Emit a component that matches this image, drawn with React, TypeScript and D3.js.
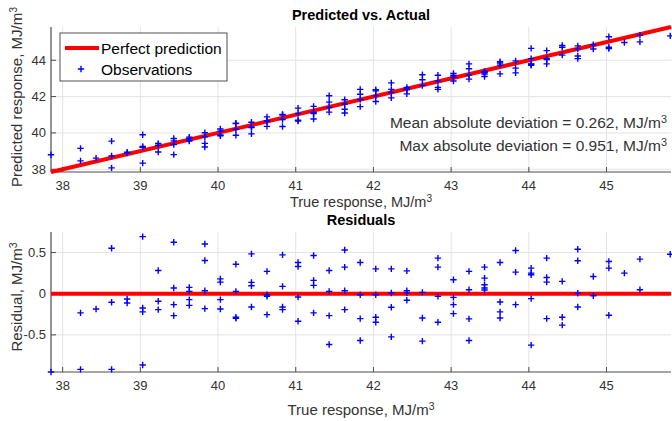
import * as d3 from 'd3';

// true response levels (MJ/m^3) and the residuals observed at each level
const trueLevels = [
  37.85, 38.23, 38.43, 38.63, 38.83, 39.03, 39.23, 39.43, 39.63, 39.83, 40.03, 40.23, 40.43,
  40.63, 40.83, 41.03, 41.23, 41.43, 41.63, 41.83, 42.03, 42.23, 42.43, 42.63, 42.83, 43.03,
  43.23, 43.43, 43.63, 43.83, 44.03, 44.23, 44.43, 44.63, 44.83, 45.03, 45.23, 45.43, 45.82,
];

const residualGroups = [
  [-0.951],
  [-0.233, -0.919],
  [-0.185],
  [0.553, -0.104, -0.919],
  [-0.064, -0.112],
  [0.694, -0.173, -0.221, -0.866],
  [0.283, -0.092, -0.193],
  [0.625, 0.069, -0.133, -0.266],
  [0.077, 0.029, -0.072, -0.141],
  [0.605, 0.404, 0.036, -0.181],
  [0.181, 0.141, -0.072, -0.185],
  [0.359, 0.029, -0.285, -0.3],
  [0.484, 0.138, 0.097, -0.161],
  [0.271, -0.012, -0.03, -0.254],
  [0.472, 0.089, -0.161, -0.193],
  [0.38, 0.331, -0.04, -0.334],
  [0.464, 0.162, 0.102, -0.233],
  [0.283, 0.029, -0.266, -0.617],
  [0.532, 0.323, 0.036, -0.193],
  [0.38, -0.012, -0.302, -0.568],
  [0.302, -0.012, -0.285, -0.346],
  [0.302, 0.008, -0.165, -0.524],
  [0.278, 0.036, 0.01, -0.08],
  [0.017, -0.294, -0.576],
  [0.432, 0.323, -0.032, -0.346],
  [0.169, -0.044, -0.133, -0.242],
  [0.271, 0.048, -0.306, -0.568],
  [0.323, 0.19, 0.109, 0.069, 0.045],
  [0.38, -0.1, -0.221, -0.294],
  [0.525, 0.262, -0.133],
  [0.311, 0.25, 0.23, -0.06, -0.624],
  [0.432, 0.198, 0.141, -0.302],
  [0.15, -0.285, -0.382],
  [0.541, 0.4, 0.005, -0.161],
  [0.21, -0.024],
  [0.392, 0.311, -0.262],
  [0.25],
  [0.42, 0.048],
  [0.48],
];

const xTicks = [38, 39, 40, 41, 42, 43, 44, 45];
const predTicks = [38, 40, 42, 44];
const residTicks = [-0.5, 0, 0.5];
const residTickLabels = ['-0.5', '0', '0.5'];

const meanAbsDev = '0.262';
const maxAbsDev = '0.951';

const FONT = '"Liberation Sans", Arial, Helvetica, sans-serif';
const AXIS = '#4d4d4d';
const GRID = '#e3e3e3';
const TXT = '#333';

const obs = trueLevels.flatMap((t, i) =>
  residualGroups[i].map((r) => ({ t, r, p: t - r }))
);

function Plus({ x, y }: { x: number; y: number }) {
  return (
    <path
      d={`M${x - 3.2},${y}H${x + 3.2}M${x},${y - 3.2}V${y + 3.2}`}
      stroke="#0000ff"
      strokeWidth={1.4}
      fill="none"
    />
  );
}

function Unit() {
  return (
    <>
      MJ/m<tspan dy="-0.45em" fontSize="0.7em">3</tspan>
    </>
  );
}

export default function App() {
  const left = 51;
  const right = 671;

  const x = d3.scaleLinear().domain([37.85, 45.83]).range([left, right]);
  const yTop = d3.scaleLinear().domain([37.85, 45.83]).range([172, 27]);
  const yRes = d3.scaleLinear().domain([-0.951, 0.75]).range([372, 232]);

  const diag = d3.line<number>().x((d) => x(d)).y((d) => yTop(d))(x.domain());

  const axes = (y: d3.ScaleLinear<number, number>, ticks: number[], labels: string[]) => {
    const [y0, y1] = y.range();
    return (
      <g>
        {xTicks.map((t) => (
          <line key={'gx' + t} x1={x(t)} x2={x(t)} y1={y0} y2={y1} stroke={GRID} />
        ))}
        {ticks.map((t) => (
          <line key={'gy' + t} x1={left} x2={right} y1={y(t)} y2={y(t)} stroke={GRID} />
        ))}
        <line x1={left} x2={left} y1={y0} y2={y1} stroke={AXIS} strokeWidth={1.2} />
        <line x1={left} x2={right} y1={y0} y2={y0} stroke={AXIS} strokeWidth={1.2} />
        {xTicks.map((t) => (
          <g key={'tx' + t}>
            <line x1={x(t)} x2={x(t)} y1={y0} y2={y0 - 5} stroke={AXIS} />
            <text x={x(t)} y={y0 + 18} textAnchor="middle" fontSize={13} fill={TXT}>
              {t}
            </text>
          </g>
        ))}
        {ticks.map((t, i) => (
          <g key={'ty' + t}>
            <line x1={left} x2={left + 5} y1={y(t)} y2={y(t)} stroke={AXIS} />
            <text x={left - 5} y={y(t) + 4.5} textAnchor="end" fontSize={13} fill={TXT}>
              {labels[i]}
            </text>
          </g>
        ))}
      </g>
    );
  };

  const cx = (left + right) / 2;

  return (
    <svg
      width={672}
      height={421}
      style={{ position: 'absolute', left: 0, top: 0, background: '#fff' }}
      fontFamily={FONT}
    >
      <rect width={672} height={421} fill="#fff" />

      {/* Predicted vs. Actual */}
      {axes(yTop, predTicks, predTicks.map(String))}
      <path d={diag ?? ''} stroke="#ff0000" strokeWidth={4} fill="none" />
      {obs.map((o, i) => (
        <Plus key={'p' + i} x={x(o.t)} y={yTop(o.p)} />
      ))}
      <text x={cx} y={20} textAnchor="middle" fontSize={14.5} fontWeight="bold" fill="#000">
        Predicted vs. Actual
      </text>
      <text x={cx} y={207} textAnchor="middle" fontSize={14.5} fill={TXT}>
        True response, <Unit />
      </text>
      <text
        transform={`translate(22,${97}) rotate(-90)`}
        textAnchor="middle"
        fontSize={15}
        fill={TXT}
      >
        Predicted response, <Unit />
      </text>
      <text x={667} y={128} textAnchor="end" fontSize={15.5} fill={TXT}>
        Mean absolute deviation = {meanAbsDev}, <Unit />
      </text>
      <text x={667} y={151} textAnchor="end" fontSize={15.5} fill={TXT}>
        Max absolute deviation = {maxAbsDev}, <Unit />
      </text>

      {/* legend */}
      <rect x={60} y={33} width={167} height={48} fill="#fff" stroke="#262626" strokeWidth={0.8} />
      <line x1={65} x2={99} y1={48} y2={48} stroke="#ff0000" strokeWidth={4} />
      <text x={101} y={53.5} fontSize={15.5} fill="#000">
        Perfect prediction
      </text>
      <Plus x={81} y={69} />
      <text x={101} y={74.5} fontSize={15.5} fill="#000">
        Observations
      </text>

      {/* Residuals */}
      {axes(yRes, residTicks, residTickLabels)}
      <line x1={left} x2={right} y1={yRes(0)} y2={yRes(0)} stroke="#ff0000" strokeWidth={4} />
      {obs.map((o, i) => (
        <Plus key={'r' + i} x={x(o.t)} y={yRes(o.r)} />
      ))}
      <text x={cx} y={225} textAnchor="middle" fontSize={14.5} fontWeight="bold" fill="#000">
        Residuals
      </text>
      <text x={cx} y={415} textAnchor="middle" fontSize={15} fill={TXT}>
        True response, <Unit />
      </text>
      <text
        transform={`translate(22,${297}) rotate(-90)`}
        textAnchor="middle"
        fontSize={15}
        fill={TXT}
      >
        Residual, <Unit />
      </text>
    </svg>
  );
}
